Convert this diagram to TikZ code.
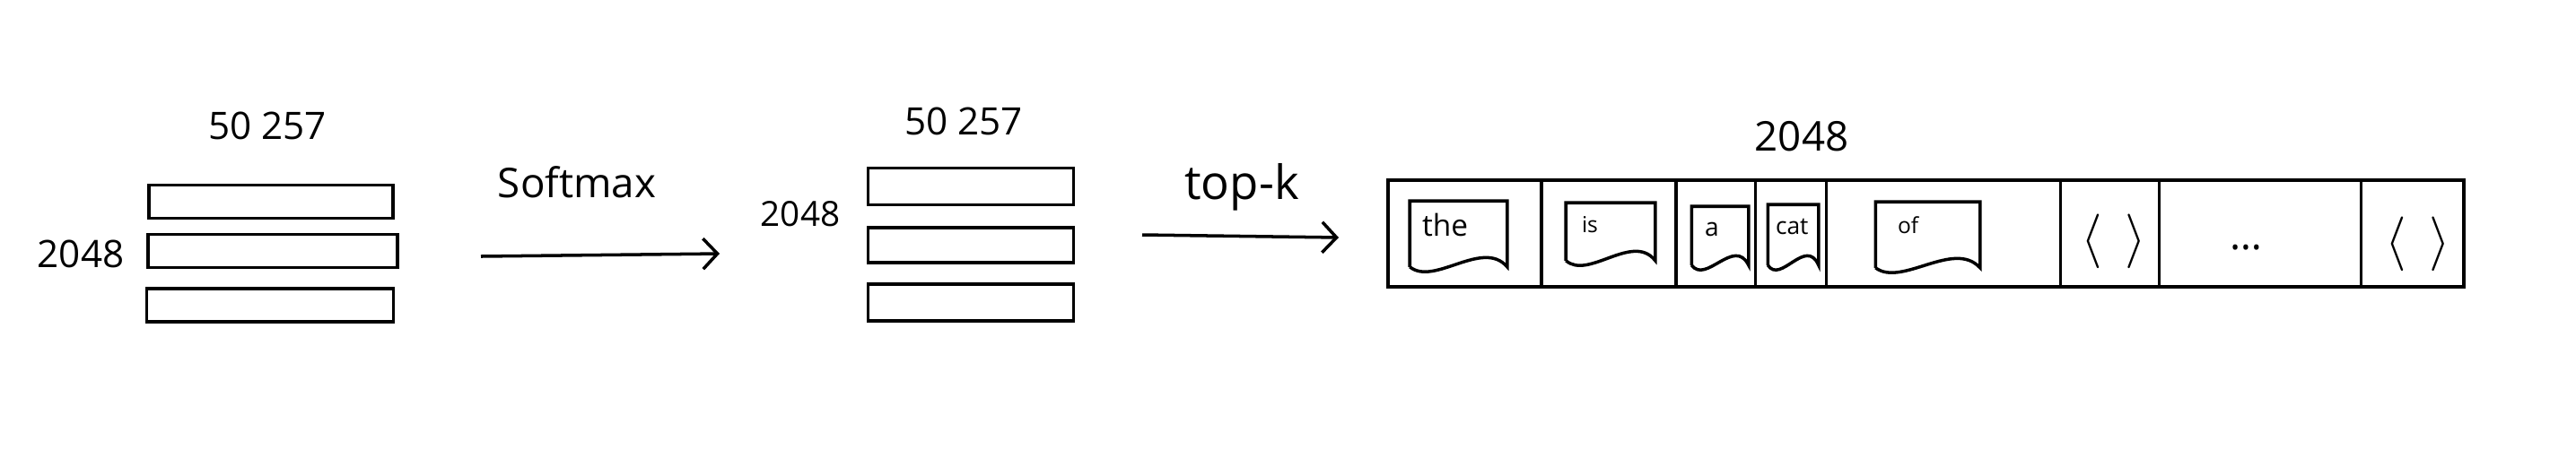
\documentclass[tikz,border=0pt]{standalone}
\usepackage{fontspec}
\setmainfont{Open Sans}
\usetikzlibrary{arrows.meta,calc}

\begin{document}
\begin{tikzpicture}[line width=1pt,
    >={Straight Barb[length=1.6mm,width=3.4mm]},
    fs/.style={font=\fontsize{#1}{#1}\selectfont},
    bar/.style={draw,minimum height=0.37cm,inner sep=0pt},
    num/.style={inner sep=0pt,anchor=base},
    doc/.style={inner sep=0pt},
    word/.style={inner sep=0pt,anchor=base west},
    wave/.style={to path={.. controls ($(\tikztostart)!0.25!(\tikztotarget)+(0,0.32)$) and ($(\tikztostart)!0.75!(\tikztotarget)+(0,-0.22)$) .. (\tikztotarget)}}]

      \useasboundingbox (0,0) rectangle (28.71,-5.10);

      % logits
      \node[num,fs=12] (lw) at (2.98,-1.55) {50 257};
      \node[num,fs=12] (lh) at (0.90,-2.98) {2048};
      \node[bar,minimum width=2.72cm] (l1) at (3.02,-2.25) {};
      \node[bar,minimum width=2.78cm] (l2) at (3.04,-2.80) {};
      \node[bar,minimum width=2.75cm] (l3) at (3.01,-3.405) {};

      \coordinate (s1) at (5.36,-2.86);
      \coordinate (s2) at (8.02,-2.83);
      \node[num,fs=13] (sm) at (6.43,-2.20) {Softmax};

      % probabilities
      \node[num,fs=12] (mw) at (10.74,-1.50) {50 257};
      \node[num,fs=11] (mh) at (8.92,-2.52) {2048};
      \node[bar,minimum width=2.29cm,minimum height=0.41cm] (m1) at (10.82,-2.08) {};
      \node[bar,minimum width=2.29cm,minimum height=0.39cm] (m2) at (10.82,-2.735) {};
      \node[bar,minimum width=2.29cm,minimum height=0.41cm] (m3) at (10.82,-3.375) {};

      \coordinate (k1) at (12.73,-2.62);
      \coordinate (k2) at (14.92,-2.65);
      \node[num,fs=15] (tk) at (13.84,-2.22) {top-k};

      % sampled tokens
      \node[num,fs=13] (sl) at (20.08,-1.68) {2048};
      \node[draw,minimum width=11.99cm,minimum height=1.19cm,inner sep=0pt] (seq) at (21.465,-2.605) {};

      \node[doc,minimum width=1.05cm,minimum height=0.70cm] (dthe) at (16.255,-2.61) {};
      \node[doc,minimum width=0.96cm,minimum height=0.61cm] (dis) at (17.95,-2.585) {};
      \node[doc,minimum width=0.60cm,minimum height=0.62cm] (da) at (19.17,-2.63) {};
      \node[doc,minimum width=0.53cm,minimum height=0.64cm] (dcat) at (19.985,-2.62) {};
      \node[doc,minimum width=1.13cm,minimum height=0.70cm] (dof) at (21.485,-2.62) {};

      \node[word,fs=9.5] (wthe) at ([xshift=0.12cm,yshift=-0.39cm]dthe.north west) {the};
      \node[word,fs=7] (wis) at ([xshift=0.16cm,yshift=-0.33cm]dis.north west) {is};
      \node[word,fs=8] (wa) at ([xshift=0.13cm,yshift=-0.33cm]da.north west) {a};
      \node[word,fs=7.5] (wcat) at ([xshift=0.07cm,yshift=-0.33cm]dcat.north west) {cat};
      \node[word,fs=7] (wof) at ([xshift=0.23cm,yshift=-0.35cm]dof.north west) {of};

      \node[fs=18,inner sep=0pt] (p1) at (23.56,-2.69) {$\langle\hspace{0.4em}\rangle$};
      \node[fs=13,inner sep=0pt] (dd) at (25.03,-2.76) {\ldots};
      \node[fs=18,inner sep=0pt] (p2) at (26.95,-2.72) {$\langle\hspace{0.4em}\rangle$};

      \draw[->] (s1) -- (s2);
      \draw[->] (k1) -- (k2);

      \draw ([xshift=1.73cm]seq.north west) -- ([xshift=1.73cm]seq.south west);
      \draw ([xshift=3.23cm]seq.north west) -- ([xshift=3.23cm]seq.south west);
      \draw ([xshift=4.11cm]seq.north west) -- ([xshift=4.11cm]seq.south west);
      \draw ([xshift=4.90cm]seq.north west) -- ([xshift=4.90cm]seq.south west);
      \draw ([xshift=7.51cm]seq.north west) -- ([xshift=7.51cm]seq.south west);
      \draw ([xshift=8.61cm]seq.north west) -- ([xshift=8.61cm]seq.south west);
      \draw ([xshift=10.86cm]seq.north west) -- ([xshift=10.86cm]seq.south west);

      \draw (dthe.south west) -- (dthe.north west) -- (dthe.north east) -- (dthe.south east) to[wave] (dthe.south west);
      \draw (dis.south west) -- (dis.north west) -- (dis.north east) -- (dis.south east) to[wave] (dis.south west);
      \draw (da.south west) -- (da.north west) -- (da.north east) -- (da.south east) to[wave] (da.south west);
      \draw (dcat.south west) -- (dcat.north west) -- (dcat.north east) -- (dcat.south east) to[wave] (dcat.south west);
      \draw (dof.south west) -- (dof.north west) -- (dof.north east) -- (dof.south east) to[wave] (dof.south west);
    \end{tikzpicture}
\end{document}
